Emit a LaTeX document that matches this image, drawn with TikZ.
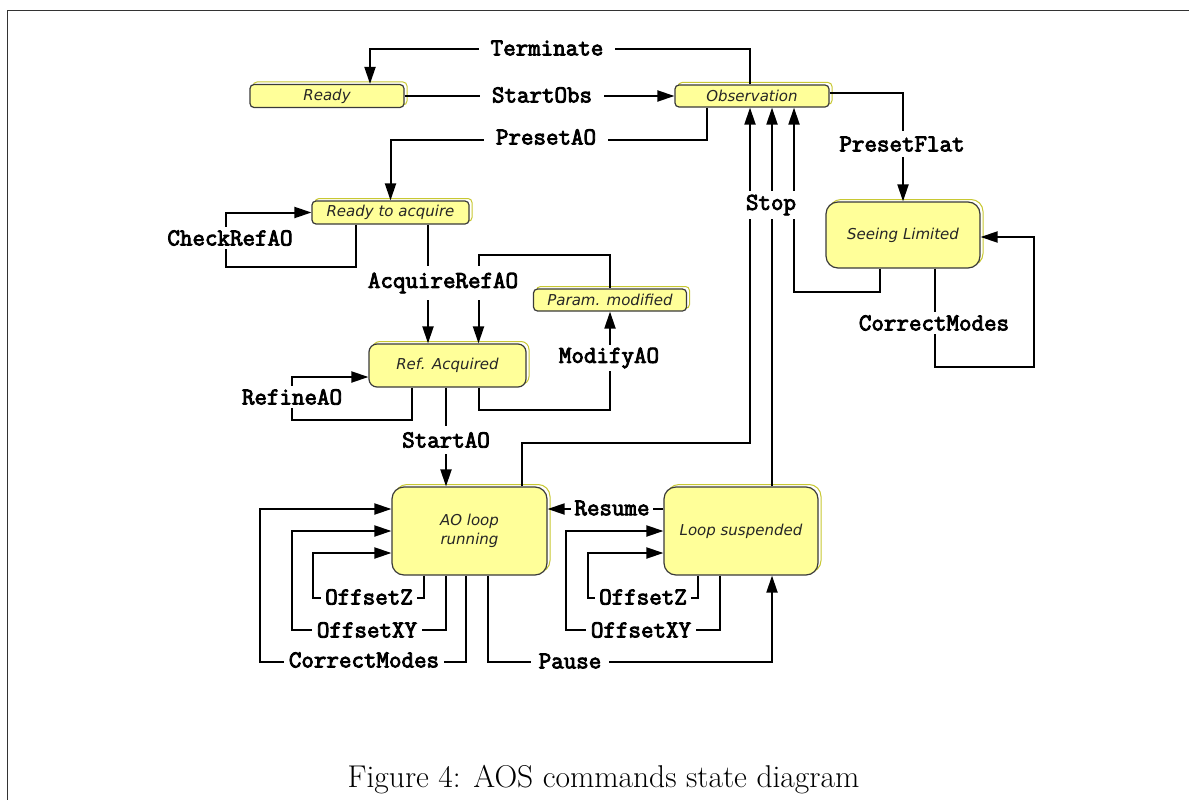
\documentclass[tikz,border=0pt]{standalone}
\usepackage{fontspec}
\newfontfamily\statefont{DejaVu Sans}
\newfontfamily\lblfont{Latin Modern Mono}[FakeBold=3.5]
\usetikzlibrary{arrows.meta,shadows}
\definecolor{statefill}{HTML}{FFFF99}
\definecolor{stateline}{HTML}{3A3A3A}
\definecolor{shadowline}{HTML}{C8C832}

\begin{document}
\begin{tikzpicture}[x=1pt,y=-1pt,
    state/.style={draw=stateline,line width=1.2pt,fill=statefill,rounded corners=4pt,
      font=\statefont\itshape\fontsize{15}{19}\selectfont,text=black!85,align=center,inner sep=0pt,
      general shadow={shadow xshift=3pt,shadow yshift=2.5pt,draw=shadowline,fill=white,line width=1pt}},
    bigstate/.style={state,rounded corners=12pt},
    tr/.style={line width=2pt,-{Triangle[length=17pt,width=11pt]}},
    lbl/.style={fill=white,inner xsep=5pt,inner ysep=3pt,font=\lblfont\fontsize{24.3}{28}\selectfont}]
\useasboundingbox (0,0) rectangle (1189,800);
\draw[line width=1pt,black!80] (7,800) -- (7,11) -- (1189,11);

\node[state,minimum width=154pt,minimum height=23pt] (rdy) at (327,96) {Ready};
\node[state,minimum width=154pt,minimum height=22pt] (obs) at (752,96) {Observation};
\node[state,minimum width=157pt,minimum height=23pt] (rdyacq) at (390.5,212.5) {Ready to acquire};
\node[state,minimum width=153pt,minimum height=22pt] (parmod) at (610,300) {Param. modified};
\node[bigstate,rounded corners=8pt,minimum width=157pt,minimum height=43pt] (refacq) at (447.5,365.5) {Ref. Acquired};
\node[bigstate,minimum width=154pt,minimum height=66pt] (seeing) at (903,235) {Seeing Limited};
\node[bigstate,minimum width=155pt,minimum height=88pt] (aoloop) at (469.5,531) {AO loop\\running};
\node[bigstate,minimum width=154pt,minimum height=88pt] (susp) at (741,531) {Loop suspended};

\draw[tr] ([xshift=-2pt]obs.north) -- ++(0,-35) -| ([xshift=43pt]rdy.north);
\draw[tr] (rdy.east) -- (obs.west);
\draw[tr] ([xshift=-45pt]obs.south) -- ++(0,32) -| (rdyacq.north);
\draw[tr] ([yshift=3.5pt]obs.east) -| (seeing.north);
\draw[tr] ([xshift=52pt]aoloop.north) -- ++(0,-43) -| ([xshift=-2pt]obs.south);
\coordinate (stopb) at ([xshift=20pt]obs.south);
\draw[tr] (stopb |- susp.north) -- (stopb);
\draw[tr] ([xshift=-23pt]seeing.south) -- ++(0,23) -| ([xshift=42pt]obs.south);
\draw[tr] ([xshift=-34.5pt]rdyacq.south) -- ++(0,42) -| ([xshift=-85pt]rdyacq.west) -- (rdyacq.west);
\coordinate (acq) at ([xshift=37.5pt]rdyacq.south);
\draw[tr] (acq) -- (acq |- refacq.north);
\draw[tr] (parmod.north) -- ++(0,-33) -| ([xshift=31pt]refacq.north);
\draw[tr] ([xshift=31pt]refacq.south) -- ++(0,22) -| (parmod.south);
\draw[tr] ([xshift=-35.5pt]refacq.south) -- ++(0,32) -| ([xshift=-76pt,yshift=-11.5pt]refacq.west) -- ([yshift=-11.5pt]refacq.west);
\coordinate (sao) at ([xshift=-1.5pt]refacq.south);
\draw[tr] (sao) -- (sao |- aoloop.north);
\draw[tr] ([xshift=-45.5pt]aoloop.south) -- ++(0,22) -| ([xshift=-78pt,yshift=-22pt]aoloop.west) -- ([yshift=-22pt]aoloop.west);
\draw[tr] ([xshift=-23.5pt]aoloop.south) -- ++(0,54) -| ([xshift=-99pt]aoloop.west) -- (aoloop.west);
\draw[tr] ([xshift=-3.5pt]aoloop.south) -- ++(0,86) -| ([xshift=-131pt,yshift=22pt]aoloop.west) -- ([yshift=22pt]aoloop.west);
\draw[tr] ([xshift=18.5pt]aoloop.south) -- ++(0,86) -| ([xshift=31pt]susp.south);
\draw[tr] ([yshift=22pt]susp.west) -- ([yshift=22pt]aoloop.east);
\draw[tr] ([xshift=-43pt]susp.south) -- ++(0,22) -| ([xshift=-75pt,yshift=-22pt]susp.west) -- ([yshift=-22pt]susp.west);
\draw[tr] ([xshift=-21pt]susp.south) -- ++(0,54) -| ([xshift=-97pt]susp.west) -- (susp.west);
\draw[tr] ([xshift=32pt]seeing.south) -- ++(0,98) -| ([xshift=53pt,yshift=-2pt]seeing.east) -- ([yshift=-2pt]seeing.east);

\node[lbl,inner xsep=12pt] (terminate) at (547,48) {Terminate};
\node[lbl,inner xsep=12pt] (startobs) at (542,95) {StartObs};
\node[lbl,inner xsep=12pt] (presetao) at (546,137) {PresetAO};
\node[lbl,inner ysep=6pt] (presetflat) at (902,144) {PresetFlat};
\node[lbl,inner ysep=4pt] (stop) at (771,205) {Stop};
\node[lbl] (checkref) at (230,238) {CheckRefAO};
\node[lbl,inner ysep=7pt] (acquireref) at (443,283) {AcquireRefAO};
\node[lbl] (modifyao) at (609,358) {ModifyAO};
\node[lbl] (refineao) at (292,397) {RefineAO};
\node[lbl,inner ysep=6pt] (startao) at (446,440) {StartAO};
\node[lbl,inner xsep=4pt] (offz) at (369,597) {OffsetZ};
\node[lbl] (offxy) at (367,630) {OffsetXY};
\node[lbl] (corrao) at (364,660) {CorrectModes};
\node[lbl,inner xsep=8pt] (pause) at (570,661) {Pause};
\node[lbl,inner xsep=3pt] (resume) at (612,508) {Resume};
\node[lbl,inner xsep=4pt] (offzs) at (643,597) {OffsetZ};
\node[lbl] (offxys) at (641,630) {OffsetXY};
\node[lbl] (corrsl) at (934,323) {CorrectModes};

\node[font=\fontsize{31.5}{38}\selectfont] (caption) at (603.5,780) {Figure 4: AOS commands state diagram};
\end{tikzpicture}
\end{document}
